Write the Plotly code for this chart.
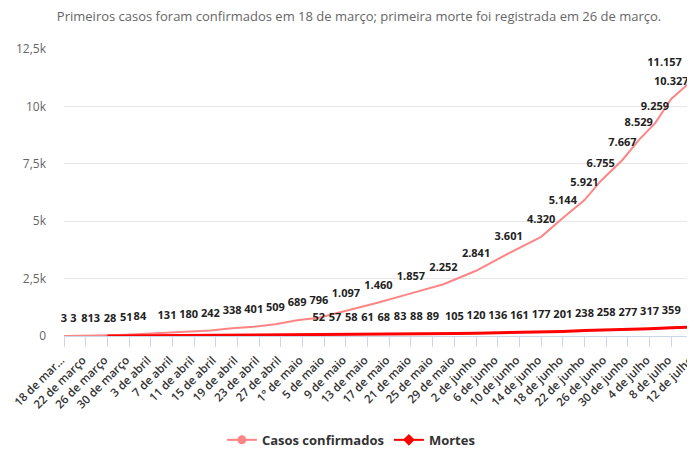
import plotly.graph_objects as go

# Casos confirmados (pontos rotulados)
case_dates = ["2020-03-18", "2020-03-19 18:00", "2020-03-21 18:00", "2020-03-23 12:00", "2020-03-26 12:00",
              "2020-03-29 12:00", "2020-04-01", "2020-04-06", "2020-04-10", "2020-04-14", "2020-04-18",
              "2020-04-22", "2020-04-26", "2020-04-30", "2020-05-04", "2020-05-09", "2020-05-15",
              "2020-05-21", "2020-05-27", "2020-06-02", "2020-06-08", "2020-06-14", "2020-06-18",
              "2020-06-22", "2020-06-25", "2020-06-29", "2020-07-02", "2020-07-05", "2020-07-08",
              "2020-07-12"]
case_values = [3, 3, 8, 13, 28, 51, 84, 131, 180, 242, 338, 401, 509, 689, 796, 1097, 1460, 1857,
               2252, 2841, 3601, 4320, 5144, 5921, 6755, 7667, 8529, 9259, 10327, 11157]

# Mortes
death_dates = ["2020-03-26", "2020-05-04", "2020-05-07", "2020-05-10", "2020-05-13",
               "2020-05-16", "2020-05-19", "2020-05-22", "2020-05-25", "2020-05-29",
               "2020-06-02", "2020-06-06", "2020-06-10", "2020-06-14", "2020-06-18",
               "2020-06-22", "2020-06-26", "2020-06-30", "2020-07-04", "2020-07-08", "2020-07-12"]
death_values = [1, 52, 57, 58, 61, 68, 83, 88, 89, 105, 120, 136, 161, 177, 201, 238, 258, 277,
                317, 359, 395]
death_labeled = [False] + [True] * 19 + [False]

tick_dates = ["2020-03-18", "2020-03-22", "2020-03-26", "2020-03-30", "2020-04-03", "2020-04-07",
              "2020-04-11", "2020-04-15", "2020-04-19", "2020-04-23", "2020-04-27", "2020-05-01",
              "2020-05-05", "2020-05-09", "2020-05-13", "2020-05-17", "2020-05-21", "2020-05-25",
              "2020-05-29", "2020-06-02", "2020-06-06", "2020-06-10", "2020-06-14", "2020-06-18",
              "2020-06-22", "2020-06-26", "2020-06-30", "2020-07-04", "2020-07-08", "2020-07-12"]
tick_labels = ["18 de mar…", "22 de março", "26 de março", "30 de março", "3 de abril", "7 de abril",
               "11 de abril", "15 de abril", "19 de abril", "23 de abril", "27 de abril", "1° de maio",
               "5 de maio", "9 de maio", "13 de maio", "17 de maio", "21 de maio", "25 de maio",
               "29 de maio", "2 de junho", "6 de junho", "10 de junho", "14 de junho", "18 de junho",
               "22 de junho", "26 de junho", "30 de junho", "4 de julho", "8 de julho", "12 de julho"]
y_ticks = [0, 2500, 5000, 7500, 10000, 12500]
y_tick_labels = ["0", "2,5k", "5k", "7,5k", "10k", "12,5k"]

title_text = "Primeiros casos foram confirmados em 18 de março; primeira morte foi registrada em 26 de março."

CASE_COLOR = "#ff8585"
DEATH_COLOR = "#ff0000"
FONT = "Open Sans"


def fmt(v):
    return f"{v:,}".replace(",", ".")


label_font = dict(family=FONT, size=11, color="#222222", weight="bold")

# last label is kept inside the chart, as in the original
case_pos = ["top center"] * (len(case_values) - 1) + ["top left"]

fig = go.Figure()
fig.add_trace(go.Scatter(
    x=case_dates, y=case_values, mode="lines+markers+text",
    line=dict(color=CASE_COLOR, width=2),
    marker=dict(size=16, opacity=0),
    text=[fmt(v) for v in case_values], textposition=case_pos,
    textfont=label_font, cliponaxis=False, showlegend=False, hoverinfo="skip"))
fig.add_trace(go.Scatter(
    x=death_dates, y=death_values, mode="lines+markers+text",
    line=dict(color=DEATH_COLOR, width=3),
    marker=dict(size=16, opacity=0),
    text=[fmt(v) if s else "" for v, s in zip(death_values, death_labeled)],
    textposition="top center",
    textfont=label_font, cliponaxis=False, showlegend=False, hoverinfo="skip"))

# legend entries
fig.add_trace(go.Scatter(x=[None], y=[None], mode="lines+markers", name="Casos confirmados",
                         line=dict(color=CASE_COLOR, width=2),
                         marker=dict(symbol="circle", size=9, color=CASE_COLOR)))
fig.add_trace(go.Scatter(x=[None], y=[None], mode="lines+markers", name="Mortes",
                         line=dict(color=DEATH_COLOR, width=2),
                         marker=dict(symbol="diamond", size=9, color=DEATH_COLOR)))

fig.update_layout(
    width=687, height=442,
    margin=dict(l=56, r=2, t=41, b=114, autoexpand=False),
    paper_bgcolor="white", plot_bgcolor="white",
    font=dict(family=FONT, size=12, color="#333333"),
    title=dict(text=title_text, x=0.511, xanchor="center", y=0.98, yanchor="middle",
               font=dict(family=FONT, size=13, color="#666666")),
    legend=dict(orientation="h", x=0.251, xanchor="left", y=-0.362, yanchor="middle",
                font=dict(family=FONT, size=13, color="#333333", weight="bold"),
                itemwidth=30),
    xaxis=dict(type="date", range=["2020-03-18", "2020-07-12 00:20"], automargin=False,
               tickmode="array", tickvals=tick_dates, ticktext=tick_labels,
               tickangle=-45, ticks="outside", ticklen=10, tickcolor="#ccd6eb",
               ticklabeloverflow="allow", ticklabelshift=-3, ticklabelstandoff=2,
               showline=True, linecolor="#ccd6eb", linewidth=1, showgrid=False,
               zeroline=False,
               tickfont=dict(family=FONT, size=11.5, color="#333333", weight=600)),
    yaxis=dict(range=[0, 12500], tickmode="array", tickvals=y_ticks, ticktext=y_tick_labels,
               automargin=False,
               showgrid=True, gridcolor="#e6e6e6", zeroline=False, showline=False,
               ticks="", ticklabelstandoff=17,
               tickfont=dict(family=FONT, size=12, color="#666666")),
)

fig.write_html("out.html")
